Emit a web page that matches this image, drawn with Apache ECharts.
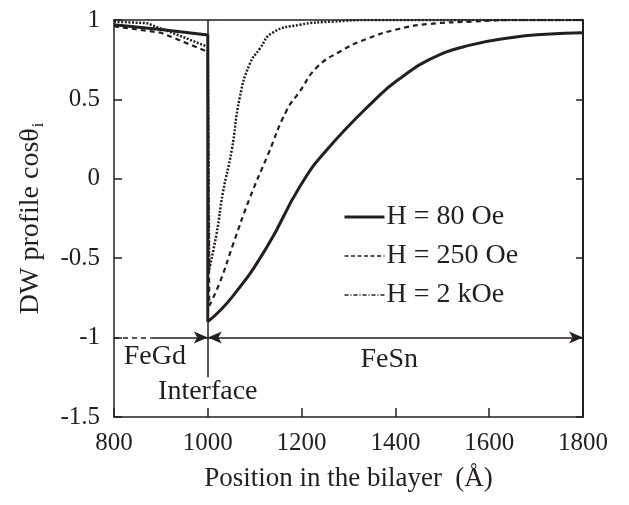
<!DOCTYPE html>
<html>
<head>
<meta charset="utf-8">
<script src="https://cdn.jsdelivr.net/npm/echarts@6/dist/echarts.min.js"></script>
<style>
  html, body { margin: 0; padding: 0; background: #fff; }
  #chart { width: 629px; height: 505px; }
</style>
</head>
<body>
<div id="chart"></div>
<script>
// values: [position (Å), cos theta]
var h80Left = [[800, 0.97], [900, 0.94], [1000, 0.905], [1000, -0.9]];
var h80Right = [[1000, -0.9], [1053, -0.74], [1126, -0.43], [1196, -0.05], [1253, 0.18],
  [1366, 0.525], [1409, 0.63], [1472, 0.75], [1557, 0.84], [1649, 0.89], [1721, 0.91], [1800, 0.92]];

var h250Left = [[800, 0.96], [900, 0.92], [1000, 0.8], [1003, -0.8]];
var h250Right = [[1003, -0.8], [1026, -0.65], [1053, -0.42], [1089, -0.125], [1128, 0.15],
  [1168, 0.43], [1196, 0.55], [1232, 0.7], [1281, 0.8], [1338, 0.88], [1409, 0.945],
  [1472, 0.975], [1564, 0.99], [1650, 1], [1800, 1]];

var h2kLeft = [[800, 0.99], [870, 0.98], [950, 0.89], [1000, 0.83], [1003, -0.57]];
var h2kRight = [[1003, -0.57], [1019, -0.34], [1032, -0.09], [1051, 0.18], [1068, 0.51],
  [1089, 0.72], [1111, 0.82], [1138, 0.92], [1196, 0.97], [1266, 0.99], [1350, 1], [1800, 1]];

var seriesNames = ['H = 80 Oe', 'H = 250 Oe', 'H = 2 kOe'];

// annotation positions in data units
var interfaceX = 1000;
var regionY = -1;
var labelFeGd = [887, -1.12];
var labelFeSn = [1387, -1.14];
var labelInterface = [1000, -1.34];

var INK = '#231f20';
var FONT = '"Liberation Serif", "DejaVu Serif", serif';

var chart = echarts.init(document.getElementById('chart'));

function curve(name, data, style, smooth) {
  return {
    name: name,
    type: 'line',
    data: data,
    symbol: 'none',
    smooth: smooth ? 0.5 : false,
    lineStyle: style,
    itemStyle: { color: INK },
    animation: false,
    z: 3
  };
}

var solid = { color: INK, width: 3, type: 'solid' };
var dashed = { color: INK, width: 2.2, type: [5, 4] };
var dotted = { color: INK, width: 2.5, type: [2, 1.6] };

function numLabel(v) { return String(v); }

var option = {
  backgroundColor: '#fff',
  animation: false,
  textStyle: { fontFamily: FONT, color: INK },
  grid: { left: 114, right: 46, top: 20, bottom: 88 },
  legend: {
    data: [
      { name: seriesNames[0], lineStyle: { width: 3, type: 'solid' } },
      { name: seriesNames[1], lineStyle: { width: 1.5, type: [4, 2.5] } },
      { name: seriesNames[2], lineStyle: { width: 1.5, type: [4, 2, 1, 2] } }
    ],
    orient: 'vertical',
    left: 338,
    top: 198,
    itemWidth: 40,
    itemHeight: 12,
    itemGap: 11,
    itemStyle: { opacity: 0 },
    textStyle: { fontFamily: FONT, fontSize: 28, color: INK, padding: [0, 0, 0, -3] }
  },
  xAxis: [{
    type: 'value',
    min: 800, max: 1800, interval: 200,
    axisLine: { onZero: false, lineStyle: { color: INK, width: 1.5 } },
    axisTick: { inside: true, length: 9, lineStyle: { color: INK, width: 1.5 } },
    axisLabel: { color: INK, fontFamily: FONT, fontSize: 25, margin: 14, formatter: numLabel },
    splitLine: { show: false },
    name: 'Position in the bilayer  (Å)',
    nameLocation: 'middle',
    nameGap: 48,
    nameTextStyle: { color: INK, fontFamily: FONT, fontSize: 27 }
  }, {
    type: 'value', position: 'top',
    min: 800, max: 1800,
    axisLine: { onZero: false, lineStyle: { color: INK, width: 1.5 } },
    axisTick: { show: false }, axisLabel: { show: false }, splitLine: { show: false }
  }],
  yAxis: [{
    type: 'value',
    min: -1.5, max: 1, interval: 0.5,
    axisLine: { onZero: false, lineStyle: { color: INK, width: 1.5 } },
    axisTick: { inside: true, length: 8, lineStyle: { color: INK, width: 1.5 } },
    axisLabel: { color: INK, fontFamily: FONT, fontSize: 25, margin: 14, formatter: numLabel },
    splitLine: { show: false },
    name: '{a|DW profile cosθ}{s|i}',
    nameLocation: 'middle',
    nameGap: 67,
    nameTextStyle: {
      color: INK, fontFamily: FONT,
      rich: {
        a: { fontFamily: FONT, fontSize: 28, color: INK },
        s: { fontFamily: FONT, fontSize: 16, color: INK, padding: [16, 0, 0, 1] }
      }
    }
  }, {
    type: 'value', position: 'right',
    min: -1.5, max: 1, interval: 0.5,
    axisLine: { onZero: false, lineStyle: { color: INK, width: 2 } },
    axisTick: { inside: true, length: 7, lineStyle: { color: INK, width: 1.5 } },
    axisLabel: { show: false }, splitLine: { show: false }
  }],
  series: [
    curve(seriesNames[0], h80Left, solid, false),
    curve(seriesNames[0], h80Right, solid, true),
    curve(seriesNames[1], h250Left, dashed, false),
    curve(seriesNames[1], h250Right, dashed, true),
    curve(seriesNames[2], h2kLeft, dotted, false),
    curve(seriesNames[2], h2kRight, dotted, true),
    {
      // region annotations: interface line, arrows, labels
      name: 'annotations',
      type: 'line',
      data: [],
      silent: true,
      markLine: {
        silent: true,
        label: { show: false },
        animation: false,
        data: [
          [{ coord: [interfaceX, 1], symbol: 'none', lineStyle: { color: INK, width: 1.5, type: 'solid' } },
           { coord: [interfaceX, -1.25], symbol: 'none' }],
          [{ coord: [interfaceX, regionY], symbol: 'arrow', symbolSize: [9, 14], lineStyle: { color: INK, width: 1.5, type: 'solid' } },
           { coord: [1800, regionY], symbol: 'arrow', symbolSize: [9, 14] }],
          [{ coord: [800, regionY], symbol: 'none', lineStyle: { color: INK, width: 1.5, type: [5, 4] } },
           { coord: [880, regionY], symbol: 'none' }],
          [{ coord: [880, regionY], symbol: 'none', lineStyle: { color: INK, width: 1.5, type: 'solid' } },
           { coord: [interfaceX, regionY], symbol: 'arrow', symbolSize: [9, 14] }]
        ]
      },
      markPoint: {
        silent: true,
        symbol: 'rect',
        symbolSize: 0,
        label: { show: true, color: INK, fontFamily: FONT, fontSize: 28, position: 'inside' },
        data: [
          { coord: labelFeGd, value: 'FeGd', label: { formatter: 'FeGd' } },
          { coord: labelFeSn, value: 'FeSn', label: { formatter: 'FeSn' } },
          { coord: labelInterface, value: 'Interface', label: { formatter: 'Interface' } }
        ]
      }
    }
  ]
};

chart.setOption(option);
</script>
</body>
</html>
